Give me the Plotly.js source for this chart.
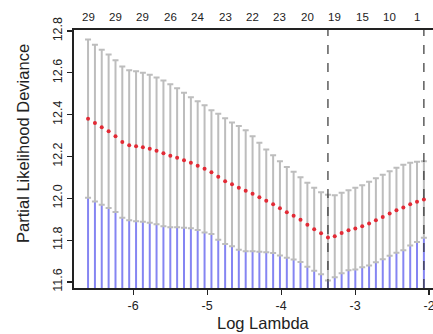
<!DOCTYPE html>
<html>
<head>
<meta charset="utf-8">
<script src="https://cdn.plot.ly/plotly-3.0.1.min.js"></script>
<style>
html,body{margin:0;padding:0;overflow:hidden;background:#fff;width:433px;height:334px;}
#chart{width:460px;height:334px;}
</style>
</head>
<body>
<div id="chart"></div>
<script>
// log(lambda) path values
const logLambda = [-6.610,-6.517,-6.425,-6.332,-6.239,-6.147,-6.054,-5.961,-5.869,-5.776,
  -5.684,-5.591,-5.498,-5.406,-5.313,-5.220,-5.128,-5.035,-4.942,-4.850,
  -4.757,-4.664,-4.572,-4.479,-4.386,-4.294,-4.201,-4.108,-4.016,-3.923,
  -3.831,-3.738,-3.645,-3.553,-3.460,-3.367,-3.275,-3.182,-3.089,-2.997,
  -2.904,-2.811,-2.719,-2.626,-2.533,-2.441,-2.348,-2.255,-2.163,-2.070];
// mean cross-validated partial likelihood deviance
const cvm = [12.381,12.360,12.340,12.321,12.297,12.269,12.254,12.249,12.244,12.237,
  12.227,12.215,12.203,12.194,12.182,12.170,12.156,12.141,12.125,12.103,
  12.082,12.067,12.050,12.036,12.022,12.005,11.988,11.972,11.952,11.933,
  11.917,11.898,11.874,11.852,11.833,11.812,11.819,11.834,11.847,11.855,
  11.866,11.879,11.895,11.911,11.927,11.943,11.956,11.972,11.983,11.994];
// standard error of cvm
const cvsd = [0.378,0.375,0.371,0.367,0.363,0.362,0.359,0.359,0.356,0.354,
  0.351,0.349,0.342,0.332,0.323,0.313,0.308,0.304,0.296,0.301,
  0.301,0.296,0.296,0.289,0.275,0.261,0.246,0.234,0.225,0.217,
  0.210,0.203,0.201,0.198,0.196,0.205,0.196,0.192,0.191,0.195,
  0.196,0.200,0.201,0.202,0.202,0.203,0.205,0.198,0.192,0.183];
// number of non-zero coefficients (top axis)
const nzAt = [-6.610,-6.239,-5.869,-5.498,-5.128,-4.757,-4.386,-4.016,-3.645,-3.275,-2.904,-2.533,-2.163];
const nzLabels = ["29","29","29","26","24","23","22","23","20","19","15","10","1"];
// reference lines
const lambdaMin = -3.367;
const lambda1se = -2.070;
const xTicks = [-6,-5,-4,-3,-2];
const xTickText = ["-6","-5","-4","-3","-2"];
const yTicks = [11.6,11.8,12.0,12.2,12.4,12.6,12.8];
const yTickText = ["11.6","11.8","12.0","12.2","12.4","12.6","12.8"];
const xRange = [-6.80,-1.69];
const yRange = [11.571,12.805];

const cvlo = cvm.map((m,i)=>m-cvsd[i]);

// blue stems from the bottom of the panel to the lower bound
const bx=[], by=[];
logLambda.forEach((x,i)=>{ bx.push(x,x,null); by.push(yRange[0],cvlo[i],null); });

const traces = [
  {type:'scatter',mode:'lines',x:bx,y:by,line:{color:'#8585f2',width:2},hoverinfo:'skip',showlegend:false},
  {type:'scatter',mode:'markers',x:logLambda,y:cvm,
   error_y:{type:'data',array:cvsd,visible:true,color:'#bdbdbd',thickness:2,width:3},
   marker:{color:'#e22a35',size:4},showlegend:false}
];

const font = {family:'"Liberation Sans", Arial, sans-serif', color:'#222'};
const annotations = nzAt.map((x,i)=>({x:x,y:1,xref:'x',yref:'paper',text:nzLabels[i],
  showarrow:false,yanchor:'bottom',yshift:5,font:{...font,size:11.5}}));
annotations.push({x:0.5,y:-0.136,xref:'paper',yref:'paper',text:'Log Lambda',showarrow:false,
  yanchor:'middle',font:{...font,size:16.5}});
annotations.push({x:-0.135,y:0.562,xref:'paper',yref:'paper',text:'Partial Likelihood Deviance',showarrow:false,
  textangle:-90,xanchor:'center',yanchor:'middle',font:{...font,size:16.5}});

const layout = {
  width:460,height:334,
  margin:{l:74,r:8,t:30,b:46},
  paper_bgcolor:'#fff',plot_bgcolor:'#fff',
  font:font,
  showlegend:false,
  xaxis:{range:xRange,tickvals:xTicks,ticktext:xTickText,ticks:'outside',ticklen:5,tickwidth:1.2,
    tickcolor:'#222',showgrid:false,zeroline:false,showline:true,mirror:true,linecolor:'#222',linewidth:1.8,
    tickfont:{...font,size:12.5}},
  yaxis:{range:yRange,tickvals:yTicks,ticktext:yTickText,ticks:'outside',ticklen:5,tickwidth:1.2,
    tickcolor:'#222',showgrid:false,zeroline:false,showline:true,mirror:true,linecolor:'#222',linewidth:1.8,
    tickangle:-90,tickfont:{...font,size:12.5}},
  shapes:[lambdaMin,lambda1se].map(v=>({type:'line',xref:'x',yref:'paper',x0:v,x1:v,y0:0,y1:1,
    line:{color:'#333',width:1.2,dash:'dash'}})),
  annotations:annotations
};
Plotly.newPlot('chart',traces,layout,{staticPlot:true,displayModeBar:false});
</script>
</body>
</html>
